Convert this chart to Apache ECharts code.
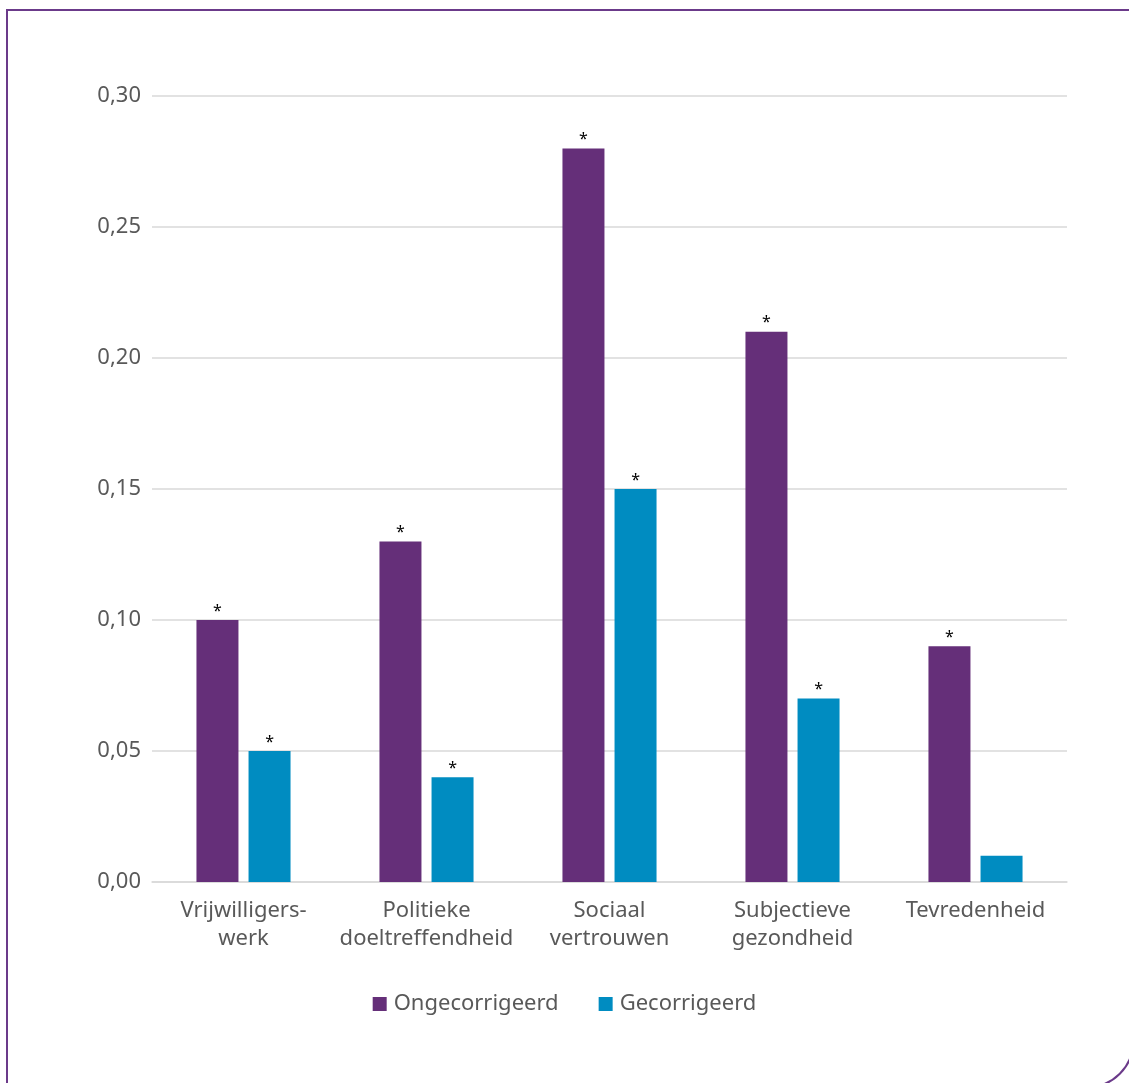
<!DOCTYPE html>
<html><head><meta charset="utf-8">
<script src="https://cdn.jsdelivr.net/npm/echarts@6/dist/echarts.min.js"></script>
<style>
html,body{margin:0;padding:0;background:#fff;overflow:hidden;}
#frame{position:absolute;left:5.5px;top:8.5px;width:1128px;height:1079px;border:2px solid #6b3a8a;border-bottom-right-radius:46px;box-sizing:border-box;}
#chart{position:absolute;left:0;top:0;width:1129px;height:1083px;}
</style></head>
<body>
<div id="frame"></div>
<div id="chart"></div>
<script>
const categories = ['Vrijwilligers-\nwerk','Politieke\ndoeltreffendheid','Sociaal\nvertrouwen','Subjectieve\ngezondheid','Tevredenheid'];
const seriesNames = ['Ongecorrigeerd','Gecorrigeerd'];
const ongecorrigeerd = [0.10,0.13,0.28,0.21,0.09];
const gecorrigeerd = [0.05,0.04,0.15,0.07,0.01];
const sigOngecorrigeerd = [true,true,true,true,true];
const sigGecorrigeerd = [true,true,true,true,false];
const yTicks = [0,0.05,0.10,0.15,0.20,0.25,0.30];

const font = '"Noto Sans", sans-serif';
function mk(vals, sig){
  return vals.map((v,i)=>({value:v,label:{show:sig[i]}}));
}
const chart = echarts.init(document.getElementById('chart'), null, {renderer:'canvas'});
chart.setOption({
  animation:false,
  textStyle:{fontFamily:font},
  grid:{left:152,right:62,top:96,bottom:201,containLabel:false},
  legend:{
    top:988,left:'center',itemWidth:14,itemHeight:14,itemGap:40,icon:'rect',
    textStyle:{fontSize:22,color:'#595959',fontFamily:font,padding:[0,0,0,2]},
    data:seriesNames
  },
  xAxis:{
    type:'category',data:categories,
    axisLine:{lineStyle:{color:'#d9d9d9',width:1.5}},
    axisTick:{show:false},
    axisLabel:{fontSize:22,color:'#595959',lineHeight:28,margin:15,fontFamily:font,interval:0}
  },
  yAxis:{
    type:'value',min:0,max:0.30,interval:0.05,
    axisLine:{show:false},axisTick:{show:false},
    splitLine:{lineStyle:{color:'#d9d9d9',width:1.5}},
    axisLabel:{fontSize:22,color:'#595959',margin:11,fontFamily:font,
      formatter:v=>{const t=yTicks.find(x=>Math.abs(x-v)<1e-9);return (t!==undefined?t:v).toFixed(2).replace('.',',');}}
  },
  series:[
    {name:seriesNames[0],type:'bar',data:mk(ongecorrigeerd,sigOngecorrigeerd),barWidth:42,barGap:'24%',
     itemStyle:{color:'#652f79'},
     label:{position:'top',formatter:'*',color:'#000',fontSize:16,distance:1}},
    {name:seriesNames[1],type:'bar',data:mk(gecorrigeerd,sigGecorrigeerd),barWidth:42,
     itemStyle:{color:'#008cc1'},
     label:{position:'top',formatter:'*',color:'#000',fontSize:16,distance:1}}
  ]
});
</script>
</body></html>
